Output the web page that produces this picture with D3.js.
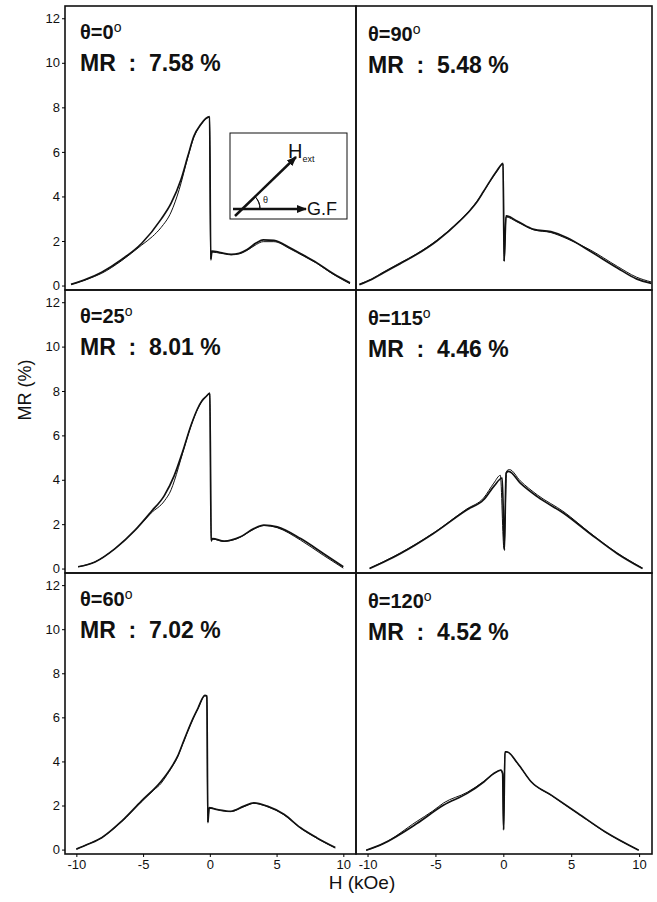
<!DOCTYPE html>
<html>
<head>
<meta charset="utf-8">
<title>MR vs H</title>
<script src="https://cdn.jsdelivr.net/npm/d3@7"></script>
<style>
  body { margin: 0; background: #fff; font-family: "Liberation Sans", Arial, Helvetica, sans-serif; }
  svg text { fill: #111; }
</style>
</head>
<body>
<div id="chart"></div>
<script>
// values, each point is [H (kOe), MR (%)]
const angles = [0, 90, 25, 115, 60, 120];
const mrPeak = ["7.58", "5.48", "8.01", "4.46", "7.02", "4.52"];
const hTicks = [-10, -5, 0, 5, 10];
const mrTicks = [0, 2, 4, 6, 8, 10, 12];

// theta = 0
const sweepA0 = [[-10.4,0.05],[-9.2,0.3],[-8.1,0.6],[-6.6,1.17],[-5.1,1.9],[-3.66,2.97],[-2.9,3.7],[-2.16,4.76],[-1.65,5.8],[-1.2,6.7],[-0.67,7.24],[-0.3,7.5],[-0.02,7.58],[0.07,1.15],[0.16,1.55],[0.8,1.48],[1.6,1.4],[2.2,1.45],[2.8,1.62],[3.5,1.92],[4.0,2.05],[4.8,2.03],[6.0,1.7],[7.0,1.37],[8.0,1.03],[9.2,0.55],[10.5,0.12]];
const sweepB0 = [[-10.4,0.05],[-9.2,0.28],[-8.1,0.55],[-6.6,1.12],[-5.1,1.82],[-4.3,2.2],[-3.66,2.6],[-2.9,3.3],[-2.3,4.3],[-1.65,5.75],[-1.2,6.65],[-0.67,7.22],[-0.3,7.48],[-0.02,7.56],[0.07,1.2],[0.16,1.5],[0.8,1.45],[1.6,1.38],[2.2,1.42],[2.8,1.58],[3.5,1.85],[4.0,1.97],[4.8,1.97],[6.0,1.65],[7.0,1.33],[8.0,1.0],[9.2,0.52],[10.5,0.08]];
// theta = 90
const sweepA1 = [[-10.6,0.04],[-9.7,0.27],[-8.85,0.56],[-7.6,0.98],[-6.4,1.39],[-4.9,2.0],[-3.2,2.9],[-2.44,3.38],[-1.95,3.75],[-1.46,4.22],[-0.96,4.71],[-0.46,5.16],[-0.1,5.46],[-0.02,5.49],[0.06,1.09],[0.2,3.13],[1.0,2.9],[2.25,2.52],[3.5,2.42],[4.7,2.15],[6.4,1.54],[8.4,0.79],[9.8,0.3],[10.9,0.1]];
const sweepB1 = [[-10.6,0.06],[-9.7,0.3],[-8.85,0.6],[-7.6,1.02],[-6.4,1.42],[-4.9,2.03],[-3.2,2.92],[-2.44,3.4],[-1.95,3.77],[-1.46,4.21],[-0.96,4.69],[-0.46,5.14],[-0.1,5.44],[-0.02,5.46],[0.06,1.1],[0.2,3.08],[1.0,2.86],[2.25,2.5],[3.5,2.38],[4.7,2.1],[6.4,1.6],[8.4,0.86],[9.8,0.38],[10.9,0.16]];
// theta = 25
const sweepA2 = [[-9.87,0.08],[-8.6,0.3],[-7.1,0.9],[-5.6,1.73],[-4.4,2.56],[-3.4,3.3],[-2.66,4.2],[-2.04,5.26],[-1.4,6.47],[-0.92,7.2],[-0.6,7.55],[-0.3,7.74],[0.0,7.9],[0.1,1.24],[0.2,1.35],[1.07,1.24],[2.3,1.43],[3.3,1.8],[4.05,1.96],[5.05,1.88],[6.8,1.35],[8.5,0.68],[10.0,0.08]];
const sweepB2 = [[-9.87,0.08],[-8.6,0.3],[-7.1,0.9],[-5.6,1.73],[-4.4,2.5],[-3.4,3.05],[-2.9,3.55],[-2.66,3.95],[-2.04,5.2],[-1.4,6.45],[-0.92,7.18],[-0.6,7.53],[-0.3,7.72],[0.0,7.88],[0.1,1.28],[0.2,1.33],[1.07,1.22],[2.3,1.42],[3.3,1.78],[4.05,1.94],[5.05,1.84],[6.8,1.28],[8.5,0.6],[10.0,0.02]];
// theta = 115
const sweepA3 = [[-9.85,0.0],[-8.8,0.3],[-7.6,0.67],[-5.15,1.58],[-2.7,2.64],[-1.45,3.1],[-0.7,3.7],[-0.08,4.08],[0.08,0.82],[0.2,4.3],[0.4,4.38],[1.25,3.85],[2.5,3.24],[4.47,2.48],[6.4,1.57],[8.4,0.67],[10.25,0.0]];
const sweepB3 = [[-9.85,0.02],[-8.8,0.32],[-7.6,0.7],[-5.15,1.6],[-2.7,2.68],[-1.45,3.18],[-0.7,3.85],[-0.22,4.2],[0.05,0.9],[0.25,4.4],[0.45,4.46],[1.25,3.95],[2.5,3.32],[4.47,2.55],[6.4,1.6],[8.4,0.7],[10.25,0.02]];
// theta = 60
const sweepA4 = [[-10,0.02],[-9.1,0.25],[-8.1,0.54],[-6.6,1.29],[-5.15,2.19],[-3.66,3.09],[-2.9,3.72],[-2.4,4.25],[-2.04,4.8],[-1.66,5.38],[-1.3,5.9],[-0.9,6.4],[-0.37,7.0],[-0.22,6.97],[-0.15,1.22],[-0.05,1.89],[0.57,1.82],[1.57,1.74],[2.56,1.97],[3.3,2.12],[4.3,1.97],[5.55,1.6],[6.8,0.99],[8.0,0.54],[9.4,0.09]];
const sweepB4 = [[-10,0.02],[-9.1,0.25],[-8.1,0.54],[-6.6,1.27],[-5.15,2.15],[-4.2,2.7],[-3.66,3.0],[-3.2,3.4],[-2.9,3.68],[-2.4,4.23],[-2.04,4.78],[-1.66,5.36],[-1.3,5.88],[-0.9,6.38],[-0.37,6.98],[-0.22,6.95],[-0.15,1.25],[-0.05,1.92],[0.57,1.8],[1.57,1.72],[2.56,1.95],[3.3,2.1],[4.3,1.95],[5.55,1.58],[6.8,0.97],[8.0,0.52],[9.4,0.07]];
// theta = 120
const sweepA5 = [[-10.1,-0.03],[-8.85,0.27],[-6.37,1.18],[-4.39,2.02],[-2.66,2.55],[-1.42,3.08],[-0.68,3.46],[-0.18,3.61],[-0.05,3.45],[0.02,0.89],[0.12,4.44],[0.26,4.44],[1.06,3.91],[2.05,3.08],[3.53,2.47],[5.51,1.64],[7.49,0.81],[9.97,-0.03]];
const sweepB5 = [[-10.1,-0.03],[-8.85,0.27],[-6.37,1.28],[-5.2,1.75],[-4.39,2.12],[-2.66,2.6],[-1.42,3.1],[-0.68,3.46],[-0.18,3.6],[-0.05,3.42],[0.02,0.95],[0.12,4.4],[0.26,4.42],[1.06,3.9],[2.05,3.08],[3.53,2.46],[5.51,1.63],[7.49,0.8],[9.97,-0.02]];

const sweepsA = [sweepA0, sweepA1, sweepA2, sweepA3, sweepA4, sweepA5];
const sweepsB = [sweepB0, sweepB1, sweepB2, sweepB3, sweepB4, sweepB5];

// layout
const width = 657, height = 902;
const colX = [[65, 356], [356, 652]];
const rowY = [[6, 290], [290, 573], [573, 854]];
const hDomain = [-10.85, 10.95];
const mrDomain = [-0.2, 12.55];

const svg = d3.select("#chart").append("svg")
  .attr("width", width)
  .attr("height", height)
  .attr("viewBox", [0, 0, width, height]);

const xScales = colX.map(r => d3.scaleLinear(hDomain, r));
const yScales = rowY.map(r => d3.scaleLinear(mrDomain, [r[1], r[0]]));

angles.forEach((theta, i) => {
  const col = i % 2, row = Math.floor(i / 2);
  const x = xScales[col], y = yScales[row];
  const g = svg.append("g");

  const line = d3.line()
    .x(d => x(d[0]))
    .y(d => y(d[1]))
    .curve(d3.curveMonotoneX);

  g.append("path")
    .attr("d", line(sweepsB[i]))
    .attr("fill", "none")
    .attr("stroke", "#111")
    .attr("stroke-width", 1);
  g.append("path")
    .attr("d", line(sweepsA[i]))
    .attr("fill", "none")
    .attr("stroke", "#111")
    .attr("stroke-width", 1.7);

  // frame
  g.append("rect")
    .attr("x", colX[col][0])
    .attr("y", rowY[row][0])
    .attr("width", colX[col][1] - colX[col][0])
    .attr("height", rowY[row][1] - rowY[row][0])
    .attr("fill", "none")
    .attr("stroke", "#111")
    .attr("stroke-width", 1.6);

  // y axis on left column
  if (col === 0) {
    g.append("g")
      .attr("transform", `translate(${colX[0][0]},0)`)
      .call(d3.axisLeft(y).tickValues(mrTicks).tickSize(3).tickPadding(2))
      .call(a => a.select(".domain").remove())
      .call(a => a.selectAll("text").style("font-size", "13px")
        .style("font-family", "'Liberation Sans', Arial, sans-serif"));
  }
  // x axis on bottom row
  if (row === 2) {
    g.append("g")
      .attr("transform", `translate(0,${rowY[2][1]})`)
      .call(d3.axisBottom(x).tickValues(hTicks).tickSize(3).tickPadding(3)
        .tickFormat(d => d < 0 ? "-" + Math.abs(d) : d))
      .call(a => a.select(".domain").remove())
      .call(a => a.selectAll("text").style("font-size", "13px")
        .style("font-family", "'Liberation Sans', Arial, sans-serif"));
  }

  // panel labels
  const lx = colX[col][0] + (col === 0 ? 15 : 12);
  const ly = rowY[row][0] + (col === 0 ? 33 : 35);
  const t = g.append("text")
    .attr("x", lx).attr("y", ly)
    .style("font-size", "20px").style("font-weight", "bold");
  t.append("tspan").text("θ=" + theta);
  t.append("tspan").attr("dy", -7).style("font-size", "14px")
    .style("font-weight", "normal").text("o");
  g.append("text")
    .attr("x", lx).attr("y", ly + 32)
    .style("font-size", "23px").style("font-weight", "bold")
    .attr("xml:space", "preserve")
    .text("MR  :  " + mrPeak[i] + " %");
});

// inset sketch in first panel
const ix = colX[0][0] + 165, iy = rowY[0][0] + 127;
const inset = svg.append("g").attr("transform", `translate(${ix},${iy})`);
const defs = svg.append("defs");
defs.append("marker")
  .attr("id", "head")
  .attr("viewBox", "0 0 10 10")
  .attr("refX", 9).attr("refY", 5)
  .attr("markerWidth", 4).attr("markerHeight", 4)
  .attr("orient", "auto")
  .append("path").attr("d", "M0,1L10,5L0,9Z").attr("fill", "#111");

inset.append("rect")
  .attr("width", 117).attr("height", 86)
  .attr("fill", "#fff").attr("stroke", "#111").attr("stroke-width", 1);
inset.append("line")
  .attr("x1", 3).attr("y1", 76).attr("x2", 76).attr("y2", 76)
  .attr("stroke", "#111").attr("stroke-width", 2.5)
  .attr("marker-end", "url(#head)");
inset.append("line")
  .attr("x1", 5).attr("y1", 83).attr("x2", 66).attr("y2", 24)
  .attr("stroke", "#111").attr("stroke-width", 2.5)
  .attr("marker-end", "url(#head)");
const arc = d3.arc()({ innerRadius: 18, outerRadius: 18, startAngle: Math.PI / 2 - 0.78, endAngle: Math.PI / 2 });
inset.append("path")
  .attr("transform", "translate(12,76)")
  .attr("d", arc)
  .attr("fill", "none").attr("stroke", "#111").attr("stroke-width", 1);
inset.append("text").attr("x", 33).attr("y", 70)
  .style("font-size", "9px").text("θ");
inset.append("text").attr("x", 77).attr("y", 82)
  .style("font-size", "18px").text("G.F");
const ht = inset.append("text").attr("x", 58).attr("y", 25).style("font-size", "20px");
ht.append("tspan").text("H");
ht.append("tspan").attr("dy", 4).style("font-size", "9px").text("ext");

// axis titles
svg.append("text")
  .attr("transform", "translate(31,390) rotate(-90)")
  .attr("text-anchor", "middle")
  .style("font-size", "18px")
  .text("MR (%)");
svg.append("text")
  .attr("x", 362).attr("y", 889)
  .attr("text-anchor", "middle")
  .style("font-size", "19px")
  .text("H (kOe)");
</script>
</body>
</html>
